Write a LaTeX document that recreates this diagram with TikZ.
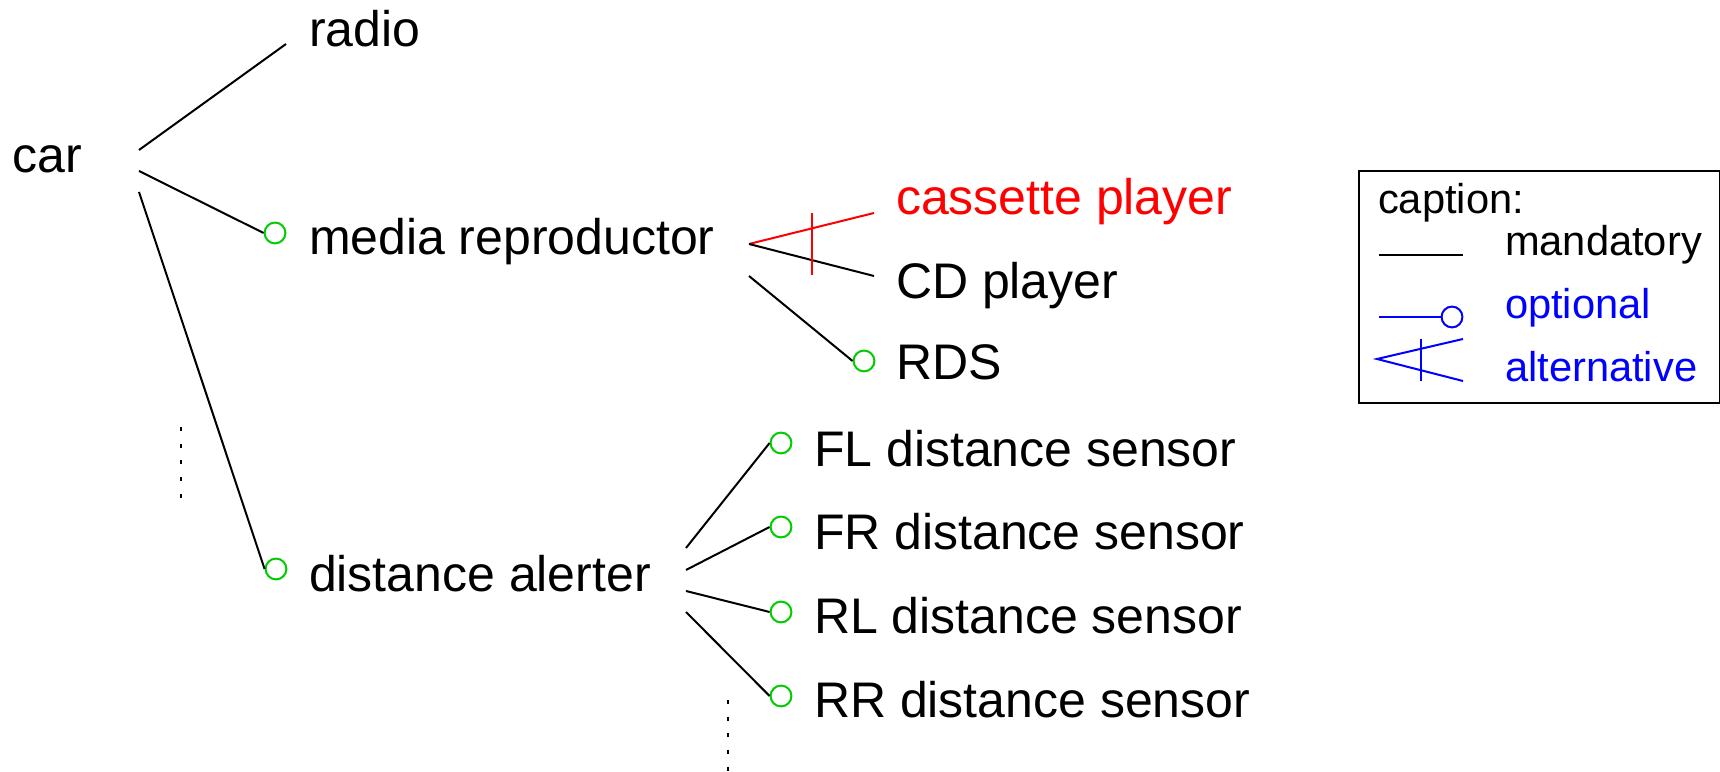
\documentclass[tikz,border=0pt]{standalone}
\usepackage{fontspec}
\setmainfont{Liberation Sans}
\definecolor{optgreen}{RGB}{0,204,0}
\begin{document}
\begin{tikzpicture}[x=0.24pt,y=-0.24pt, line width=0.48pt,
  lbl/.style={anchor=base west, inner sep=0pt, font=\fontsize{12}{14}\selectfont},
  leg/.style={anchor=base west, inner sep=0pt, font=\fontsize{10}{12}\selectfont},
  opt/.style={circle, draw=optgreen, minimum size=5pt, inner sep=0pt, line width=0.48pt},
  legopt/.style={circle, draw=blue, minimum size=5pt, inner sep=0pt, line width=0.48pt},
  conn/.style={draw=black, line width=0.48pt},
  dotline/.style={dash pattern=on 1pt off 3pt, line width=0.48pt}]
\useasboundingbox (0,0) rectangle (1720,772);

% texts
\node[lbl] (car) at (12,173) {car};
\node[lbl] (radio) at (308,47) {radio};
\node[lbl] (media) at (308,255) {media reproductor};
\node[lbl] (alerter) at (308,592) {distance alerter};
\node[lbl, text=red] (cassette) at (895,215) {cassette player};
\node[lbl] (cd) at (895,299) {CD player};
\node[lbl] (rds) at (895,380) {RDS};
\node[lbl] (fl) at (813,467) {FL distance sensor};
\node[lbl] (fr) at (813,550) {FR distance sensor};
\node[lbl] (rl) at (813,634) {RL distance sensor};
\node[lbl] (rr) at (813,718) {RR distance sensor};

% ports
\coordinate (carA) at (139,150);
\coordinate (carB) at (139,171);
\coordinate (carC) at (139,192);
\coordinate (radioport) at (286,44);
\coordinate (medA) at (749,244);
\coordinate (medB) at (749,276);
\coordinate (casport) at (874,213);
\coordinate (cdport) at (874,276);
\coordinate (barT) at (812,213);
\coordinate (barB) at (812,275);
\coordinate (alA) at (686,548);
\coordinate (alB) at (686,570);
\coordinate (alC) at (686,591);
\coordinate (alD) at (686,612);

% optional circles
\node[opt] (cmedia) at (275,233) {};
\node[opt] (calert) at (276,569) {};
\node[opt] (crds) at (864,361) {};
\node[opt] (cfl) at (781,443) {};
\node[opt] (cfr) at (781,527) {};
\node[opt] (crl) at (781,612) {};
\node[opt] (crr) at (781,696) {};

% connectors
\draw[conn] (carA) -- (radioport);
\draw[conn] (carB) -- (cmedia.west);
\draw[conn] (carC) -- (calert.west);
\draw[draw=red] (medA) -- (casport);
\draw[conn] (medA) -- (cdport);
\draw[draw=red] (barT) -- (barB);
\draw[conn] (medB) -- (crds.west);
\draw[conn] (alA) -- (cfl.west);
\draw[conn] (alB) -- (cfr.west);
\draw[conn] (alC) -- (crl.west);
\draw[conn] (alD) -- (crr.west);

% dotted continuations
\coordinate (d1a) at (181,427);
\coordinate (d1b) at (181,500);
\coordinate (d2a) at (728,700);
\coordinate (d2b) at (728,772);
\draw[dotline] (d1a) -- (d1b);
\draw[dotline] (d2a) -- (d2b);

% legend
\node[draw, line width=0.48pt, minimum width=361*0.24pt, minimum height=232*0.24pt, inner sep=0pt, anchor=north west] (legbox) at (1358,170) {};
\node[leg] (lcap) at (1377,214) {caption:};
\node[leg] (lman) at (1504,256) {mandatory};
\node[leg, text=blue] (lopt) at (1504,319) {optional};
\node[leg, text=blue] (lalt) at (1504,382) {alternative};
\coordinate (lmA) at (1379,255);
\coordinate (lmB) at (1463,255);
\draw[conn] (lmA) -- (lmB);
\coordinate (loA) at (1379,317);
\node[legopt] (lcirc) at (1452,317) {};
\draw[draw=blue] (loA) -- (lcirc.west);
\coordinate (laA) at (1377,359);
\coordinate (laB) at (1463,339);
\coordinate (laC) at (1463,381);
\coordinate (laT) at (1421,339);
\coordinate (laD) at (1421,381);
\draw[draw=blue] (laB) -- (laA) -- (laC);
\draw[draw=blue] (laT) -- (laD);
\end{tikzpicture}
\end{document}
